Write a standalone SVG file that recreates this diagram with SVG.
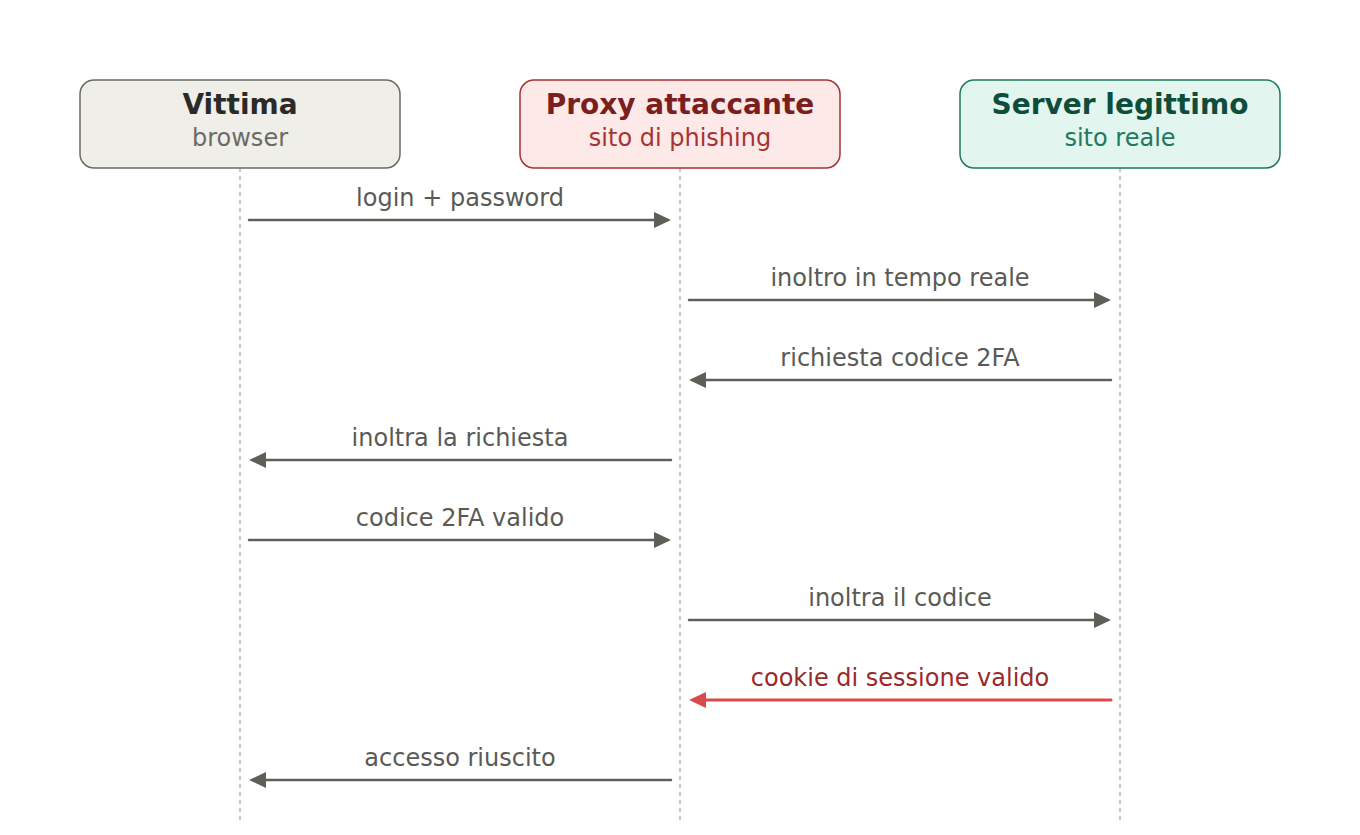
<svg xmlns="http://www.w3.org/2000/svg" width="1360" height="835" viewBox="0 0 1360 835">
<defs>
<style>
.t{font-family:"DejaVu Sans","Liberation Sans",sans-serif;text-anchor:middle}
.ti{font-size:28px;font-weight:bold}
.st{font-size:24px}
.lb{font-family:"DejaVu Sans","Liberation Sans",sans-serif;text-anchor:middle;font-size:24px;fill:#5a5a55}
.life{stroke:#b8b8b8;stroke-width:1.5;stroke-dasharray:4 4;fill:none}
.msg{stroke:#5f5f5a;stroke-width:2.5;fill:none;stroke-linecap:round;marker-end:url(#ah)}
.msgr{stroke:#d94a4a;stroke-width:3;fill:none;stroke-linecap:round;marker-end:url(#ahr)}
</style>
<marker id="ah" markerUnits="userSpaceOnUse" markerWidth="17" markerHeight="16" refX="7" refY="8" orient="auto"><path d="M0,0 L17,8 L0,16 z" fill="#5f5f5a"/></marker>
<marker id="ahr" markerUnits="userSpaceOnUse" markerWidth="17" markerHeight="16" refX="7" refY="8" orient="auto"><path d="M0,0 L17,8 L0,16 z" fill="#d94a4a"/></marker>
</defs>
<rect width="1360" height="835" fill="#ffffff"/>
<g id="lifelines">
<line class="life" x1="240" y1="168" x2="240" y2="822"/>
<line class="life" x1="680" y1="168" x2="680" y2="822"/>
<line class="life" x1="1120" y1="168" x2="1120" y2="822"/>
</g>
<g id="vittima">
<rect x="80" y="80" width="320" height="88" rx="14" fill="#efeee9" stroke="#6b6b66" stroke-width="1.5"/>
<text class="t ti" x="240" y="114" fill="#2a2a26">Vittima</text>
<text class="t st" x="240" y="146" fill="#6b6b66">browser</text>
</g>
<g id="proxy">
<rect x="520" y="80" width="320" height="88" rx="14" fill="#fde9e7" stroke="#a83232" stroke-width="1.5"/>
<text class="t ti" x="680" y="114" fill="#7a1e1e">Proxy attaccante</text>
<text class="t st" x="680" y="146" fill="#a83232">sito di phishing</text>
</g>
<g id="server">
<rect x="960" y="80" width="320" height="88" rx="14" fill="#e2f5ee" stroke="#1e7a5e" stroke-width="1.5"/>
<text class="t ti" x="1120" y="114" fill="#0d4d3a">Server legittimo</text>
<text class="t st" x="1120" y="146" fill="#1e7a5e">sito reale</text>
</g>
<g id="connectors">
<line class="msg" x1="249" y1="220" x2="661" y2="220"/>
<text class="lb" x="460" y="206">login + password</text>
<line class="msg" x1="689" y1="300" x2="1101" y2="300"/>
<text class="lb" x="900" y="286">inoltro in tempo reale</text>
<line class="msg" x1="1111" y1="380" x2="699" y2="380"/>
<text class="lb" x="900" y="366">richiesta codice 2FA</text>
<line class="msg" x1="671" y1="460" x2="259" y2="460"/>
<text class="lb" x="460" y="446">inoltra la richiesta</text>
<line class="msg" x1="249" y1="540" x2="661" y2="540"/>
<text class="lb" x="460" y="526">codice 2FA valido</text>
<line class="msg" x1="689" y1="620" x2="1101" y2="620"/>
<text class="lb" x="900" y="606">inoltra il codice</text>
<line class="msgr" x1="1111" y1="700" x2="699" y2="700"/>
<text class="lb" x="900" y="686" style="fill:#9a2a2a">cookie di sessione valido</text>
<line class="msg" x1="671" y1="780" x2="259" y2="780"/>
<text class="lb" x="460" y="766">accesso riuscito</text>
</g>
</svg>
